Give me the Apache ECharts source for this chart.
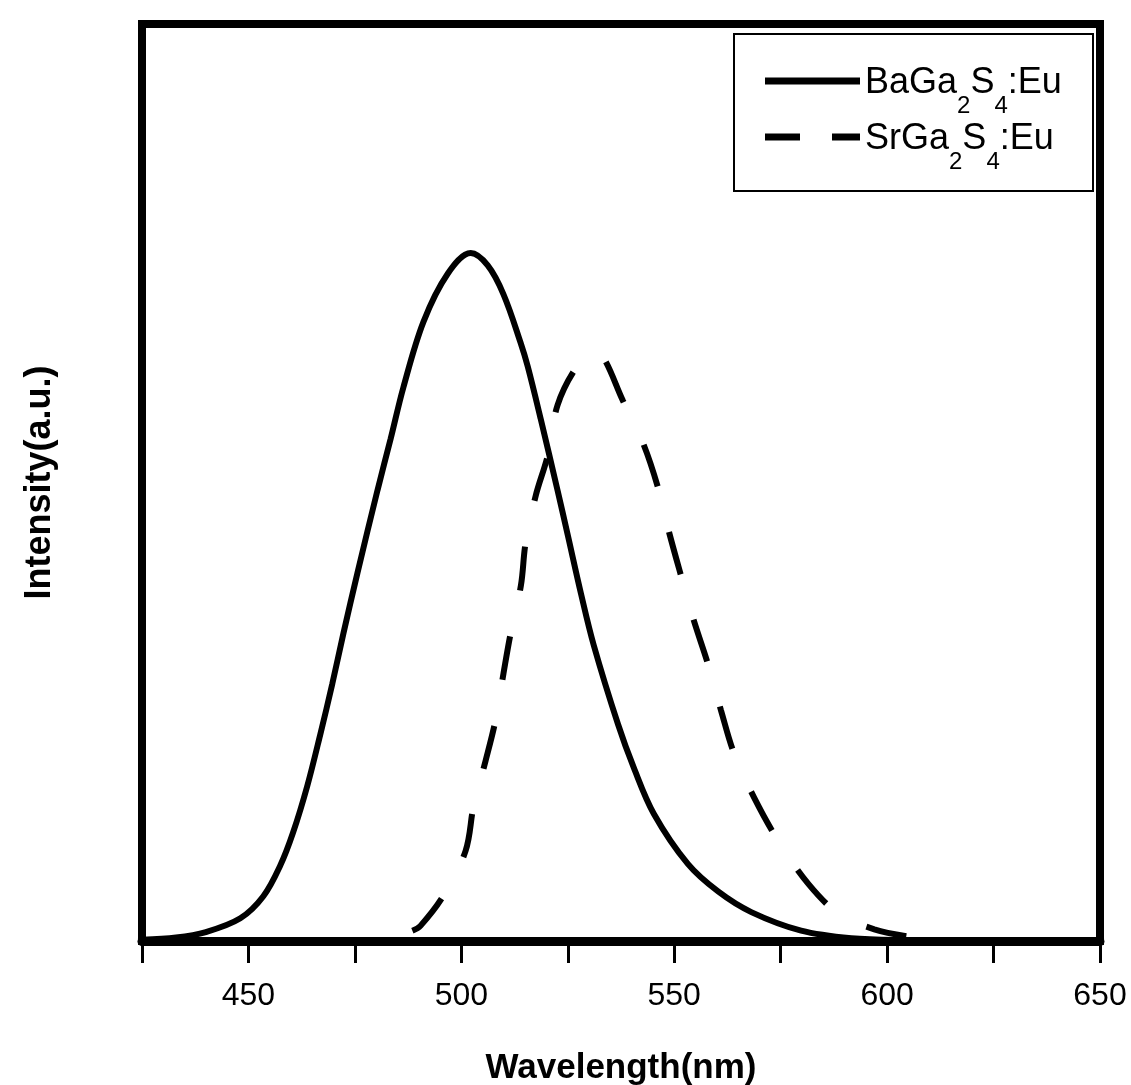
<!DOCTYPE html>
<html>
<head>
<meta charset="utf-8">
<script src="https://cdn.jsdelivr.net/npm/echarts@6/dist/echarts.min.js"></script>
<style>
html,body{margin:0;padding:0;background:#fff;}
#chart{width:1131px;height:1085px;}
</style>
</head>
<body>
<div id="chart"></div>
<script>
// BaGa2S4:Eu emission (solid)
const wavelengthBa = [425, 433.0, 440.0, 448.1, 453.5, 457.5, 460.5, 463.8, 466.9, 469.7, 472.3, 475.6, 480.3, 483.4, 486.4, 491.1, 496.8, 502.2, 506.2, 509.9, 513.9, 515.6, 518.6, 522.6, 525.0, 528.1, 531.1, 536.8, 540.5, 545.2, 553.2, 560.3, 568.1, 579.8, 591.6, 603.4, 650];
const intensityBa = [0.2, 0.5, 1.3, 3.3, 6.5, 11.0, 15.8, 22.5, 30.1, 37.4, 44.7, 53.5, 65.5, 73.0, 80.5, 90.0, 97.0, 100, 98.2, 94.0, 87.0, 83.5, 76.0, 65.5, 59.0, 50.5, 43.0, 31.5, 25.2, 18.5, 11.2, 7.2, 4.2, 1.5, 0.4, 0.15, 0];
// SrGa2S4:Eu emission (dashed)
const wavelengthSr = [488.5, 490.4, 495.8, 501.0, 502.9, 505.7, 508.1, 509.9, 511.6, 514.0, 515.1, 517.5, 520.3, 522.6, 526.9, 530.9, 533.2, 537.9, 542.6, 546.2, 548.8, 551.6, 554.6, 557.9, 561.0, 564.1, 568.8, 574.4, 581.5, 588.8, 597.0, 604.5];
const intensitySr = [1.5, 2.2, 6.6, 13.1, 19.7, 26.2, 32.3, 38.9, 44.8, 51.7, 57.9, 64.8, 70.6, 77.9, 83.3, 85.7, 85.0, 78.6, 72.5, 65.9, 59.4, 53.1, 46.6, 40.3, 33.5, 27.2, 20.8, 14.6, 8.3, 3.9, 1.7, 0.7];
const seriesNames = ['BaGa2S4:Eu', 'SrGa2S4:Eu'];
const xTickLabels = [450, 500, 550, 600, 650];

const zip = (xs, ys) => xs.map((x, i) => [x, ys[i]]);
const FONT = "'Liberation Sans', Arial, sans-serif";

const chart = echarts.init(document.getElementById('chart'));
chart.setOption({
  backgroundColor: '#fff',
  animation: false,
  grid: {left: 142, right: 31, top: 24, bottom: 144, show: true, borderColor: '#000', borderWidth: 8,
         backgroundColor: 'transparent', containLabel: false, outerBoundsMode: 'none'},
  graphic: [{
    type: 'rect', left: 733, top: 33, z: 5,
    shape: {width: 359, height: 157},
    style: {fill: 'transparent', stroke: '#000', lineWidth: 2}
  }],
  legend: {
    orient: 'vertical',
    left: 765, top: 61,
    padding: 0,
    itemGap: -23,
    itemWidth: 95,
    itemHeight: 7,
    borderWidth: 0,
    selectedMode: false,
    data: [
      {name: seriesNames[0], icon: 'rect'},
      {name: seriesNames[1], icon: 'path://M0,0H35V7H0Z M67,0H95V7H67Z'}
    ],
    formatter: function (name) {
      const m = name.match(/^([A-Za-z]+)(\d)([A-Za-z]+)(\d)(.*)$/);
      return '{a|' + m[1] + '}{s|' + m[2] + '}{a|' + m[3] + '}{s|' + m[4] + '}{a|' + m[5] + '}';
    },
    textStyle: {
      fontFamily: FONT,
      rich: {
        a: {fontFamily: FONT, fontSize: 36, color: '#000', lineHeight: 40, padding: [4, 0, 22, 0], verticalAlign: 'top'},
        s: {fontFamily: FONT, fontSize: 24, color: '#000', lineHeight: 24, padding: [33, 0, 22, 0], verticalAlign: 'top'}
      }
    }
  },
  xAxis: {
    type: 'value',
    min: 425, max: 650, interval: 25,
    name: 'Wavelength(nm)',
    nameLocation: 'middle',
    nameGap: 110,
    nameTextStyle: {fontFamily: FONT, fontSize: 35, fontWeight: 'bold', color: '#000'},
    axisLine: {show: true, lineStyle: {color: '#000', width: 9}},
    axisTick: {show: true, length: 22, lineStyle: {color: '#000', width: 3}},
    axisLabel: {
      margin: 39,
      fontFamily: FONT, fontSize: 32, color: '#000',
      formatter: v => xTickLabels.includes(v) ? String(v) : ''
    },
    splitLine: {show: false}
  },
  yAxis: {
    type: 'value',
    min: 0, max: 133.3,
    name: 'Intensity(a.u.)',
    nameLocation: 'middle',
    nameGap: 84,
    nameTextStyle: {fontFamily: FONT, fontSize: 36, fontWeight: 'bold', color: '#000'},
    axisLine: {show: true, lineStyle: {color: '#000', width: 8}},
    axisTick: {show: false},
    axisLabel: {show: false},
    splitLine: {show: false}
  },
  series: [
    {
      name: seriesNames[0], type: 'line', symbol: 'none', smooth: 0.35,
      lineStyle: {color: '#000', width: 6, cap: 'round'},
      itemStyle: {color: '#000'},
      data: zip(wavelengthBa, intensityBa)
    },
    {
      name: seriesNames[1], type: 'line', symbol: 'none', smooth: 0.35,
      lineStyle: {color: '#000', width: 6, type: [44, 47], cap: 'butt'},
      itemStyle: {color: '#000'},
      data: zip(wavelengthSr, intensitySr)
    }
  ]
});
</script>
</body>
</html>
